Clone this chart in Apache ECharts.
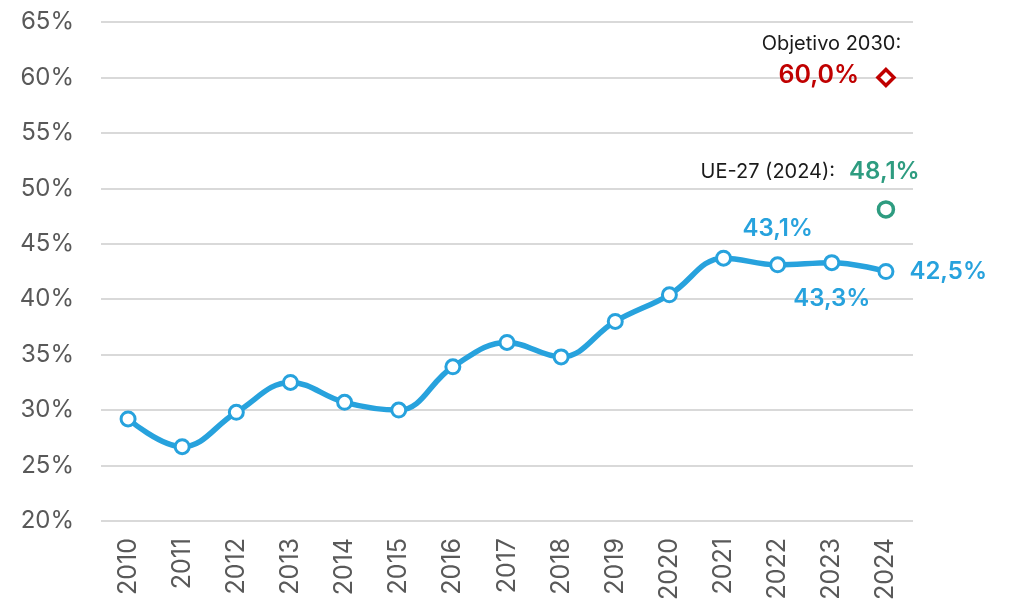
<!DOCTYPE html>
<html>
<head>
<meta charset="utf-8">
<script src="https://cdn.jsdelivr.net/npm/echarts@6/dist/echarts.min.js"></script>
<style>
  html, body { margin: 0; padding: 0; background: #fff; }
  #chart { width: 1009px; height: 605px; }
</style>
</head>
<body>
<div id="chart"></div>
<script>
// data
var years = ['2010', '2011', '2012', '2013', '2014', '2015', '2016', '2017', '2018', '2019', '2020', '2021', '2022', '2023', '2024'];
var values = [29.2, 26.7, 29.8, 32.5, 30.7, 30.0, 33.9, 36.1, 34.8, 38.0, 40.4, 43.7, 43.1, 43.3, 42.5];
var euValue = 48.1;      // UE-27 (2024)
var targetValue = 60.0;  // Objetivo 2030
var yTicks = [20, 25, 30, 35, 40, 45, 50, 55, 60, 65];

var BLUE = '#27a2dd', GREEN = '#2e9c80', RED = '#c00000';
var FONT = 'Inter';

function pct(v) {
    return v.toFixed(1).replace('.', ',') + '%';
}

// label placement for the last points
var labelPos = { '2022': 'top', '2023': 'bottom', '2024': 'right' };

var mainData = values.map(function (v, i) {
    var pos = labelPos[years[i]];
    if (!pos) return v;
    return {
        value: v,
        label: {
            show: true,
            position: pos,
            distance: pos == 'right' ? 15 : 16,
            formatter: pct(v),
            color: BLUE,
            fontFamily: FONT,
            fontSize: 24,
            fontWeight: 600
        }
    };
});

var last = years.length - 1;
var euData = years.map(function (y, i) { return i == last ? euValue : null; });
var targetData = years.map(function (y, i) { return i == last ? targetValue : null; });

var chart = echarts.init(document.getElementById('chart'));
chart.setOption({
    animation: false,
    grid: { left: 101, right: 96, top: 22, bottom: 84 },
    xAxis: {
        type: 'category',
        data: years,
        boundaryGap: true,
        axisLine: { show: false },
        axisTick: { show: false },
        axisLabel: {
            rotate: 90,
            margin: 17,
            color: '#595959',
            fontFamily: FONT,
            fontSize: 25
        }
    },
    yAxis: {
        type: 'value',
        min: yTicks[0],
        max: yTicks[yTicks.length - 1],
        interval: 5,
        axisLine: { show: false },
        axisTick: { show: false },
        splitLine: { lineStyle: { color: '#d9d9d9', width: 2 } },
        axisLabel: {
            formatter: '{value}%',
            margin: 27,
            color: '#595959',
            fontFamily: FONT,
            fontSize: 24
        }
    },
    series: [
        {
            type: 'line',
            data: mainData,
            smooth: 0.4,
            symbol: 'circle',
            symbolSize: 14,
            lineStyle: { color: BLUE, width: 5.5 },
            itemStyle: { color: '#fff', borderColor: BLUE, borderWidth: 3 },
            z: 3
        },
        {
            type: 'line',
            data: euData,
            symbol: 'circle',
            symbolSize: 15,
            lineStyle: { width: 0 },
            itemStyle: { color: '#fff', borderColor: GREEN, borderWidth: 3.5 },
            label: {
                show: true,
                position: [43, -28],
                align: 'right',
                verticalAlign: 'middle',
                formatter: '{a|UE-27 (2024):}{gap|}{b|' + pct(euValue) + '}',
                rich: {
                    a: { color: '#1a1a1a', fontFamily: FONT, fontSize: 20 },
                    gap: { width: 14 },
                    b: { color: GREEN, fontFamily: FONT, fontSize: 24, fontWeight: 600 }
                }
            }
        },
        {
            type: 'line',
            data: targetData,
            symbol: 'diamond',
            symbolSize: 16,
            lineStyle: { width: 0 },
            itemStyle: { color: '#fff', borderColor: RED, borderWidth: 3.5 },
            label: {
                show: true,
                position: [25, -8],
                align: 'right',
                verticalAlign: 'middle',
                formatter: '{a|Objetivo 2030:}\n{b|' + pct(targetValue) + '}{pad|}',
                rich: {
                    a: { color: '#1a1a1a', fontFamily: FONT, fontSize: 20, lineHeight: 32 },
                    b: { color: RED, fontFamily: FONT, fontSize: 25, fontWeight: 600, lineHeight: 32 },
                    pad: { width: 42, lineHeight: 32 }
                }
            }
        }
    ]
});
</script>
</body>
</html>
